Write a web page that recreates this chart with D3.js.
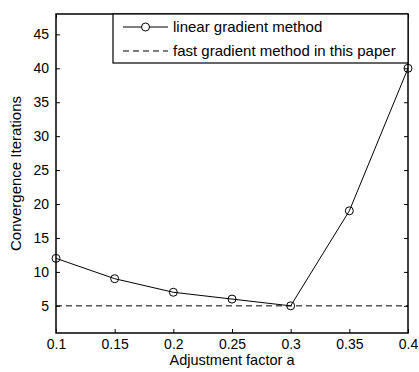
<!DOCTYPE html>
<html><head><meta charset="utf-8">
<script src="https://cdn.jsdelivr.net/npm/d3@7"></script>
<style>
body{margin:0;background:#fff;}
text{font-family:Arial,"Liberation Sans",sans-serif;fill:#000;}
</style></head>
<body>
<svg id="c" width="419" height="372"></svg>
<script>
const xValues = [0.1, 0.15, 0.2, 0.25, 0.3, 0.35, 0.4];
const linearIterations = [12, 9, 7, 6, 5, 19, 40];
const fastIterations = 5;
const xTicks = [0.1, 0.15, 0.2, 0.25, 0.3, 0.35, 0.4];
const xTickLabels = ["0.1", "0.15", "0.2", "0.25", "0.3", "0.35", "0.4"];
const yTicks = [5, 10, 15, 20, 25, 30, 35, 40, 45];
const seriesNames = ["linear gradient method", "fast gradient method in this paper"];

const svg = d3.select("#c");
const L = 56, R = 408, T = 14, B = 333;
const x = d3.scaleLinear().domain([0.1, 0.4]).range([L, R]);
const y = d3.scaleLinear().domain([1, 48]).range([B, T]);

const g = svg.append("g");

const tickLen = 4;
const xb = g.append("g").attr("transform", `translate(0,${B})`)
  .call(d3.axisBottom(x).tickValues(xTicks).tickFormat((d,i)=>xTickLabels[i]).tickSizeInner(-tickLen).tickSizeOuter(0).tickPadding(6));
const xt = g.append("g").attr("transform", `translate(0,${T})`)
  .call(d3.axisTop(x).tickValues(xTicks).tickFormat("").tickSizeInner(-tickLen).tickSizeOuter(0));
const yl = g.append("g").attr("transform", `translate(${L},0)`)
  .call(d3.axisLeft(y).tickValues(yTicks).tickSizeInner(-tickLen).tickSizeOuter(0).tickPadding(7));
const yr = g.append("g").attr("transform", `translate(${R},0)`)
  .call(d3.axisRight(y).tickValues(yTicks).tickFormat("").tickSizeInner(-tickLen).tickSizeOuter(0));
[xb, xt, yl, yr].forEach(a => {
  a.select(".domain").remove();
  a.selectAll("line").attr("stroke", "#000");
  a.selectAll("text").style("font-size", "14px").attr("fill", "#000");
});

g.append("rect").attr("x", L).attr("y", T).attr("width", R - L).attr("height", B - T)
  .attr("fill", "none").attr("stroke", "#000").attr("stroke-width", 1.5);

g.append("line").attr("x1", x(0.1)).attr("x2", x(0.4)).attr("y1", y(fastIterations)).attr("y2", y(fastIterations))
  .attr("stroke", "#000").attr("stroke-width", 1).attr("stroke-dasharray", "6,4");

const pts = xValues.map((v, i) => [v, linearIterations[i]]);
g.append("path").datum(pts)
  .attr("d", d3.line().x(d => x(d[0])).y(d => y(d[1])))
  .attr("fill", "none").attr("stroke", "#000").attr("stroke-width", 1);
g.selectAll("circle.m").data(pts).enter().append("circle").attr("class", "m")
  .attr("cx", d => x(d[0])).attr("cy", d => y(d[1])).attr("r", 4)
  .attr("fill", "none").attr("stroke", "#000").attr("stroke-width", 1);

const lg = g.append("g");
lg.append("rect").attr("x", 113).attr("y", T).attr("width", R - 113).attr("height", 49)
  .attr("fill", "#fff").attr("stroke", "#000").attr("stroke-width", 1.2);
const rows = [27, 51];
lg.append("line").attr("x1", 123).attr("x2", 168).attr("y1", rows[0]).attr("y2", rows[0]).attr("stroke", "#000");
lg.append("circle").attr("cx", 145.5).attr("cy", rows[0]).attr("r", 4).attr("fill", "#fff").attr("stroke", "#000");
lg.append("line").attr("x1", 123).attr("x2", 168).attr("y1", rows[1]).attr("y2", rows[1]).attr("stroke", "#000").attr("stroke-dasharray", "6,4");
seriesNames.forEach((s, i) => {
  lg.append("text").attr("x", 173).attr("y", rows[i]).attr("dy", "0.35em").style("font-size", "15px").text(s);
});

svg.append("text").attr("x", (L + R) / 2).attr("y", 365).attr("text-anchor", "middle").style("font-size", "14.5px").text("Adjustment factor a");
svg.append("text").attr("transform", `translate(21,${(T + B) / 2}) rotate(-90)`).attr("text-anchor", "middle").style("font-size", "15px").text("Convergence Iterations");
</script>
</body></html>
